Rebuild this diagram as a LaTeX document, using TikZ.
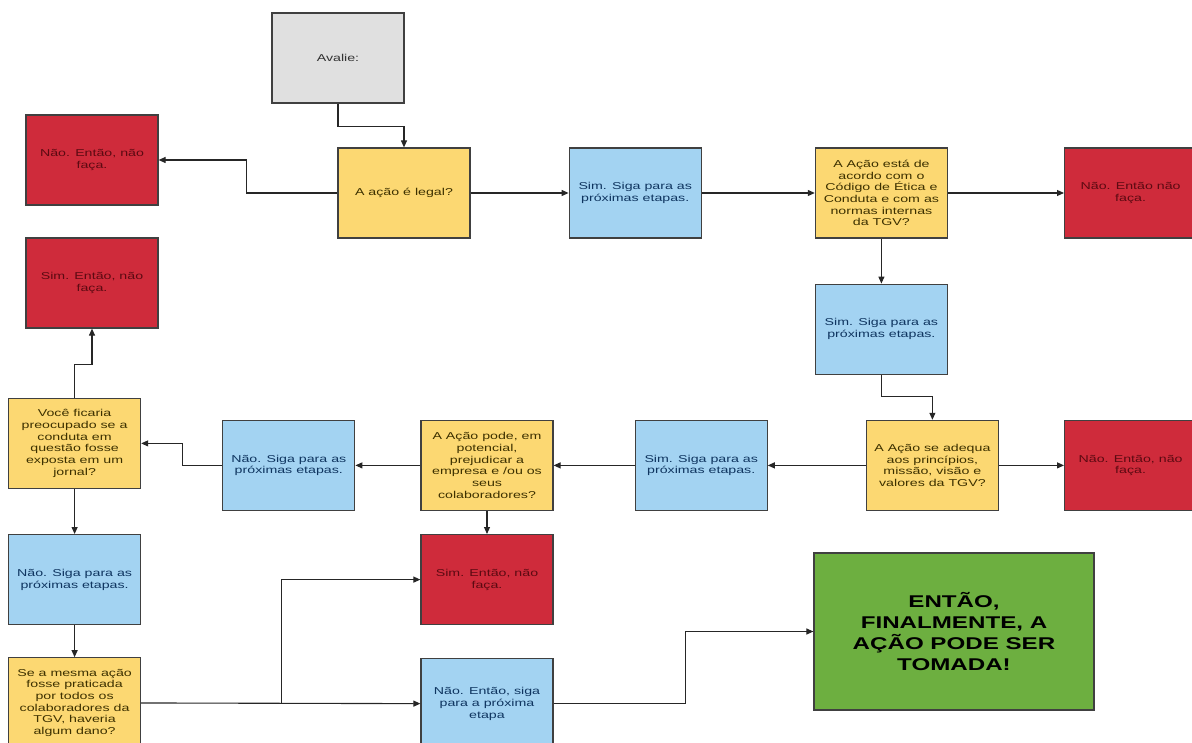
\documentclass[tikz,border=0pt]{standalone}
\usepackage{fontspec}
\usepackage{xcolor}
\usepackage{tikz}
\usetikzlibrary{positioning,arrows.meta}
\newfontfamily\chartfont{Liberation Sans}[FakeStretch=1.42]
\definecolor{boxgray}{HTML}{E0E0E0}
\definecolor{boxyellow}{HTML}{FCD872}
\definecolor{boxblue}{HTML}{A3D3F2}
\definecolor{boxred}{HTML}{CF2B3B}
\definecolor{boxgreen}{HTML}{6DAF40}
\definecolor{txtyellow}{HTML}{3D3100}
\definecolor{txtblue}{HTML}{0F3560}
\definecolor{txtred}{HTML}{5C0A12}

\begin{document}
\begin{tikzpicture}[
        every node/.style={font=\chartfont\fontsize{10}{11.7}\selectfont},
        block/.style={rectangle, draw=black!75, line width=1.2pt, minimum width=132pt, minimum height=90pt, align=center, inner sep=0pt},
        askbox/.style={block, fill=boxyellow, text=txtyellow},
        nextbox/.style={block, fill=boxblue, text=txtblue},
        stopbox/.style={block, fill=boxred, text=txtred},
        line/.style={-{Triangle[length=7pt,width=6pt]}, line width=1.1pt, draw=black!85}
    ]
        \useasboundingbox (0,0) rectangle (1192pt,-743pt);

        % Start
        \node[block, fill=boxgray, text=black!80] (avalie) at (338pt,-58pt) {Avalie:};
        \node[askbox] (legal) at (404pt,-193pt) {A ação é legal?};
        \node[stopbox] (naolegal) at (92pt,-160pt) {Não. Então, não\\faça.};

        % Top row
        \node[nextbox, right=98pt of legal] (simlegal) {Sim. Siga para as\\próximas etapas.};
        \node[askbox, right=113pt of simlegal] (codigo) {A Ação está de\\acordo com o\\Código de Ética e\\Conduta e com as\\normas internas\\da TGV?};
        \node[stopbox, right=116pt of codigo] (naocodigo) {Não. Então não\\faça.};
        \node[nextbox, below=45pt of codigo] (simcodigo) {Sim. Siga para as\\próximas etapas.};

        % Middle row
        \node[askbox, below=45pt of simcodigo, xshift=51pt] (valores) {A Ação se adequa\\aos princípios,\\missão, visão e\\valores da TGV?};
        \node[stopbox, right=65pt of valores] (naovalores) {Não. Então, não\\faça.};
        \node[nextbox, left=98pt of valores] (simvalores) {Sim. Siga para as\\próximas etapas.};
        \node[askbox, left=81pt of simvalores] (prejuizo) {A Ação pode, em\\potencial,\\prejudicar a\\empresa e /ou os\\seus\\colaboradores?};
        \node[nextbox, left=65pt of prejuizo] (naoprejuizo) {Não. Siga para as\\próximas etapas.};
        \node[askbox, left=81pt of naoprejuizo, yshift=22pt] (jornal) {Você ficaria\\preocupado se a\\conduta em\\questão fosse\\exposta em um\\jornal?};
        \node[stopbox] (simjornal) at (92pt,-283pt) {Sim. Então, não\\faça.};

        % Bottom rows
        \node[nextbox, below=45pt of jornal] (naojornal) {Não. Siga para as\\próximas etapas.};
        \node[askbox, below=32pt of naojornal] (dano) {Se a mesma ação\\fosse praticada\\por todos os\\colaboradores da\\TGV, haveria\\algum dano?};
        \node[stopbox, below=23pt of prejuizo] (simprejuizo) {Sim. Então, não\\faça.};
        \node[nextbox, below=33pt of simprejuizo] (naodano) {Não. Então, siga\\para a próxima\\etapa};
        \node[block, fill=boxgreen, minimum width=280pt, minimum height=157pt, font=\chartfont\bfseries\fontsize{17}{21}\selectfont] (final) at (954pt,-631.5pt) {ENTÃO,\\FINALMENTE, A\\AÇÃO PODE SER\\TOMADA!};

        % Arrows along the top
        \draw[line] (avalie.south) -- ++(0,-23pt) -| (legal.north);
        \draw[line] (legal.west) -- ++(-91pt,0) |- (naolegal.east);
        \draw[line] (legal) -- (simlegal);
        \draw[line] (simlegal) -- (codigo);
        \draw[line] (codigo) -- (naocodigo);
        \draw[line] (codigo) -- (simcodigo);
        \draw[line] (simcodigo.south) -- ++(0,-22pt) -| (valores.north);

        % Arrows along the middle
        \draw[line] (valores) -- (naovalores);
        \draw[line] (valores) -- (simvalores);
        \draw[line] (simvalores) -- (prejuizo);
        \draw[line] (prejuizo) -- (naoprejuizo);
        \draw[line] (prejuizo) -- (simprejuizo);
        \draw[line] (naoprejuizo.west) -- ++(-40pt,0) |- (jornal.east);
        \draw[line] (jornal.north) -- ++(0,33pt) -| (simjornal.south);

        % Arrows along the bottom
        \draw[line] (jornal) -- (naojornal);
        \draw[line] (naojornal) -- (dano);
        \draw[line] (dano) -- (naodano);
        \coordinate[right=140pt of dano.east] (ramo);
        \draw[line] (ramo) |- (simprejuizo.west);
        \draw[line] (naodano.east) -- ++(132pt,0) |- (final.west);

    \end{tikzpicture}
\end{document}
